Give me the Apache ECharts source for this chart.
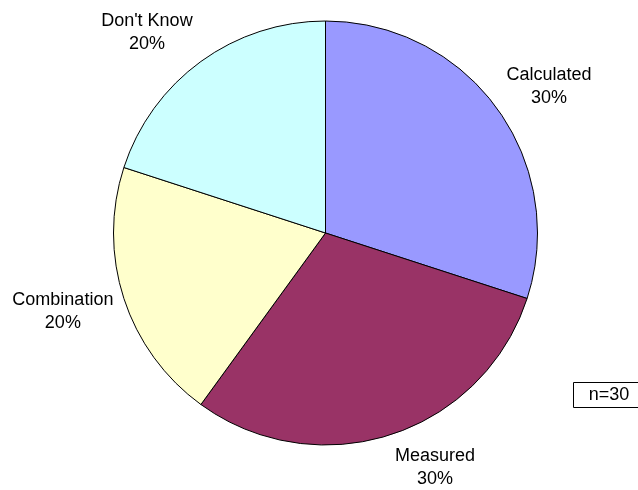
<!DOCTYPE html>
<html>
<head>
<meta charset="utf-8">
<script src="https://cdn.jsdelivr.net/npm/echarts@6/dist/echarts.min.js"></script>
<style>
  html, body { margin: 0; padding: 0; background: #ffffff; }
  #chart { width: 638px; height: 490px; }
</style>
</head>
<body>
<div id="chart"></div>
<script>
// Survey answers: how the value was obtained (respondent counts)
var categories = ['Calculated', 'Measured', 'Combination', "Don't Know"];
var counts = [9, 9, 6, 6];
var sliceColors = ['#9999FF', '#993366', '#FFFFCC', '#CCFFFF'];

// Offset of each label centre from the point where the slice's mid-angle meets the rim, in px
var labelOffsetX = [52, 44, -61, -54];
var labelOffsetY = [-22, 33, 13, -29];

var FONT = '"Liberation Sans", Arial, sans-serif';
var pieCenter = [325.5, 233];
var pieRadius = 212;

var total = counts.reduce(function (a, b) { return a + b; }, 0);

// Mid-angle (clockwise from 12 o'clock) of each slice
var midAngles = [];
(function () {
  var acc = 0;
  for (var i = 0; i < counts.length; i++) {
    var a = counts[i] / total * 360;
    midAngles.push(acc + a / 2);
    acc += a;
  }
})();

var chart = echarts.init(document.getElementById('chart'), null, { renderer: 'canvas' });

chart.setOption({
  animation: false,
  backgroundColor: '#ffffff',
  series: [{
    type: 'pie',
    center: pieCenter,
    radius: pieRadius,
    startAngle: 90,
    clockwise: true,
    avoidLabelOverlap: false,
    data: categories.map(function (name, i) {
      return { name: name, value: counts[i], itemStyle: { color: sliceColors[i] } };
    }),
    itemStyle: { borderColor: '#000000', borderWidth: 1 },
    emphasis: { disabled: true },
    label: {
      show: true,
      position: 'outside',
      formatter: '{b}\n{d}%',
      color: '#000000',
      fontFamily: FONT,
      fontSize: 18,
      lineHeight: 23,
      align: 'center'
    },
    labelLine: { show: false },
    labelLayout: function (params) {
      var i = params.dataIndex;
      var t = midAngles[i] * Math.PI / 180;
      return {
        x: pieCenter[0] + pieRadius * Math.sin(t) + labelOffsetX[i],
        y: pieCenter[1] - pieRadius * Math.cos(t) + labelOffsetY[i],
        align: 'center',
        verticalAlign: 'middle'
      };
    }
  }],
  graphic: [{
    type: 'group',
    left: 573,
    top: 382,
    children: [{
      type: 'rect',
      shape: { x: 0.5, y: 0.5, width: 80, height: 25 },
      style: { fill: '#ffffff', stroke: '#000000', lineWidth: 1 }
    }, {
      type: 'text',
      x: 36,
      y: 13,
      style: {
        text: 'n=' + total,
        fill: '#000000',
        font: '18px ' + FONT,
        textAlign: 'center',
        textVerticalAlign: 'middle'
      }
    }]
  }]
});
</script>
</body>
</html>
